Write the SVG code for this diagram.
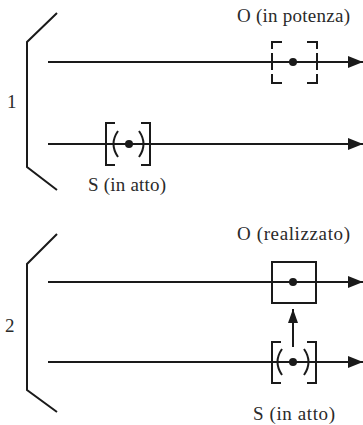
<svg xmlns="http://www.w3.org/2000/svg" width="363" height="425" viewBox="0 0 363 425">
<style>
.ln{stroke:#1a1a1a;stroke-width:2;fill:none}
.txt{font-family:"Liberation Serif","DejaVu Serif",serif;font-size:19px;fill:#2a2a2a}
.dot{fill:#1a1a1a}
</style>
<defs>
<marker id="ah" markerUnits="userSpaceOnUse" markerWidth="15" markerHeight="12" refX="15" refY="6" orient="auto">
<path d="M0,0 L15,6 L0,12 Z" fill="#1a1a1a"/>
</marker>
<marker id="ahu" markerUnits="userSpaceOnUse" markerWidth="14" markerHeight="10" refX="14" refY="5" orient="auto">
<path d="M0,0 L14,5 L0,10 Z" fill="#1a1a1a"/>
</marker>
</defs>
<rect width="363" height="425" fill="#fff"/>
<g id="connectors">
<line class="ln" x1="48" y1="62" x2="363" y2="62" marker-end="url(#ah)"/>
<line class="ln" x1="48" y1="144" x2="363" y2="144" marker-end="url(#ah)"/>
<line class="ln" x1="48" y1="282" x2="363" y2="282" marker-end="url(#ah)"/>
<line class="ln" x1="48" y1="362" x2="363" y2="362" marker-end="url(#ah)"/>
<line class="ln" x1="293" y1="347" x2="293" y2="309" marker-end="url(#ahu)"/>
</g>
<g id="bracket1">
<path class="ln" d="M57,13 L27,42 L27,167 L57,190"/>
<text class="txt" x="7" y="108">1</text>
</g>
<g id="bracket2">
<path class="ln" d="M57,234 L27,264 L27,390 L57,412"/>
<text class="txt" x="5" y="332">2</text>
</g>
<g id="O-potenza">
<path class="ln" d="M272,49 V42 H282 M307,42 H317 V49 M272,53 V70 M317,53 V70 M272,74 V83 H282 M307,83 H317 V74"/>
<circle class="dot" cx="293" cy="62" r="4"/>
<text class="txt" x="237" y="22" textLength="113" lengthAdjust="spacing">O (in potenza)</text>
</g>
<g id="S-atto-1">
<path class="ln" d="M115,123 H106 V165 H115 M141,123 H150 V165 H141"/>
<path class="ln" d="M118,131 Q109,144 118,157 M139,131 Q148,144 139,157" stroke-width="1.6"/>
<circle class="dot" cx="129" cy="144" r="4"/>
<text class="txt" x="88" y="191" textLength="78" lengthAdjust="spacing">S (in atto)</text>
</g>
<g id="O-realizzato">
<rect class="ln" x="272" y="262" width="44" height="41"/>
<circle class="dot" cx="293" cy="282" r="4"/>
<text class="txt" x="237" y="240" textLength="113" lengthAdjust="spacing">O (realizzato)</text>
</g>
<g id="S-atto-2">
<path class="ln" d="M281,342 H272 V383 H281 M307,342 H316 V383 H307"/>
<path class="ln" d="M282,349 Q273,362 282,375 M304,349 Q313,362 304,375" stroke-width="1.6"/>
<circle class="dot" cx="293" cy="362" r="4"/>
<text class="txt" x="253" y="420" textLength="82" lengthAdjust="spacing">S (in atto)</text>
</g>
</svg>
